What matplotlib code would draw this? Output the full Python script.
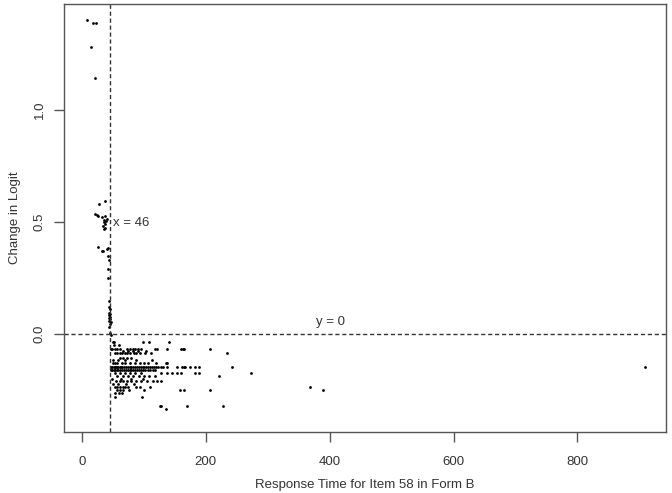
import matplotlib
matplotlib.use("Agg")
import matplotlib.pyplot as plt

plt.rcParams["font.family"] = ["Liberation Sans", "DejaVu Sans"]

# Fast responders (above the zero line)
x_upper = [7.6, 18, 22, 14.5, 21.5, 27.5, 37.7, 21, 23.7, 26.3, 33, 35, 37, 36,
           38, 34, 35.5, 37.5, 39, 40, 26.3, 33, 34.5, 40, 41.5, 41.5, 43, 41.5,
           41.5, 44, 44, 45, 43, 46, 44, 45, 43, 46, 44, 45, 44, 45, 47, 47]
y_upper = [1.402, 1.39, 1.39, 1.28, 1.143, 0.579, 0.592, 0.537, 0.531, 0.527,
           0.52, 0.51, 0.525, 0.50, 0.49, 0.48, 0.47, 0.475, 0.505, 0.515, 0.39,
           0.372, 0.372, 0.38, 0.383, 0.348, 0.33, 0.289, 0.251, 0.147, 0.12,
           0.11, 0.095, 0.09, 0.085, 0.075, 0.07, 0.065, 0.06, 0.045, 0.03,
           0.005, 0.055, -0.004]

# Slower responders, grouped by logit change
band_y = [-0.037, -0.05, -0.068, -0.078, -0.086, -0.105, -0.118, -0.128,
          -0.146, -0.161, -0.176, -0.188, -0.2, -0.21, -0.222, -0.235, -0.25,
          -0.265, -0.28, -0.32, -0.335]
band_x = [
    [49.5, 52, 99, 107.7, 141],
    [51, 60],
    [47, 49, 53, 57, 61, 73, 78, 82, 86, 90, 95, 118, 122, 137, 160, 163, 165, 207],
    [66, 75, 83, 91, 104],
    [53, 57, 61, 65, 70, 73, 78, 84, 88, 94, 102, 111, 235],
    [62, 67, 73, 80],
    [50, 58, 69, 88, 113],
    [49.5, 53, 57, 64, 70, 77, 86, 94, 100, 107, 120, 135, 137],
    [47, 49, 51, 53, 55, 57, 59, 61, 63, 65, 68, 71, 74, 77, 80, 83, 86, 89,
     92, 95, 98, 101, 104, 107, 110, 113, 116, 119, 123, 127, 131, 137, 153,
     161, 164, 167, 174, 182, 189, 242, 909.5],
    [47, 49, 51, 53, 56, 59, 62, 65, 68, 71, 74, 77, 80, 83, 86, 89, 92, 95,
     98, 102, 106, 110, 114, 118],
    [53, 61, 70, 78, 86, 95, 128, 137, 145, 153, 160, 183, 189, 273],
    [57, 66, 75, 83, 92, 100, 108, 118, 221],
    [48, 63, 79, 99],
    [55, 61, 67, 73, 80, 88, 96, 105, 114, 121, 128],
    [50, 59, 71, 84],
    [53, 57, 61, 66, 70, 74, 88, 93, 110, 369],
    [57, 62, 67, 76, 100, 159, 164, 206, 389],
    [53, 60, 65],
    [53, 97],
    [127, 170, 228, 126],
    [136],
]

x_lower = [x for xs in band_x for x in xs]
y_lower = [y for y, xs in zip(band_y, band_x) for _ in xs]

cut_x = 46
text_col = "#333333"

fig = plt.figure(figsize=(6.72, 4.93), dpi=100)
ax = fig.add_axes([0.0952, 0.1237, 0.8958, 0.8683])

ax.scatter(x_upper + x_lower, y_upper + y_lower, s=4, c="black", lw=0)
ax.axvline(cut_x, color="#333333", lw=1, ls=(0, (3, 2)))
ax.axhline(0, color="#333333", lw=1, ls=(0, (3, 2)))
ax.text(50, 0.495, "x = 46", fontsize=9.5, color=text_col, va="center", ha="left")
ax.text(402, 0.054, "y = 0", fontsize=9.5, color=text_col, va="center", ha="center")

ax.set_xlim(-29, 943)
ax.set_ylim(-0.4375, 1.473)
ax.set_xticks([0, 200, 400, 600, 800])
ax.set_yticks([0.0, 0.5, 1.0])
ax.set_yticklabels(["0.0", "0.5", "1.0"], rotation=90, va="center")
ax.tick_params(direction="out", length=7, width=1, color="#555555",
               labelsize=9.5, labelcolor=text_col)
ax.tick_params(axis="x", pad=10)
ax.tick_params(axis="y", pad=6)
for s in ax.spines.values():
    s.set_color("#555555")
    s.set_linewidth(1)

ax.set_xlabel("Response Time for Item 58 in Form B", fontsize=9.5,
              color=text_col, labelpad=8)
ax.set_ylabel("Change in Logit", fontsize=9.5, color=text_col, labelpad=9)

fig.savefig("out.png", dpi=100)
